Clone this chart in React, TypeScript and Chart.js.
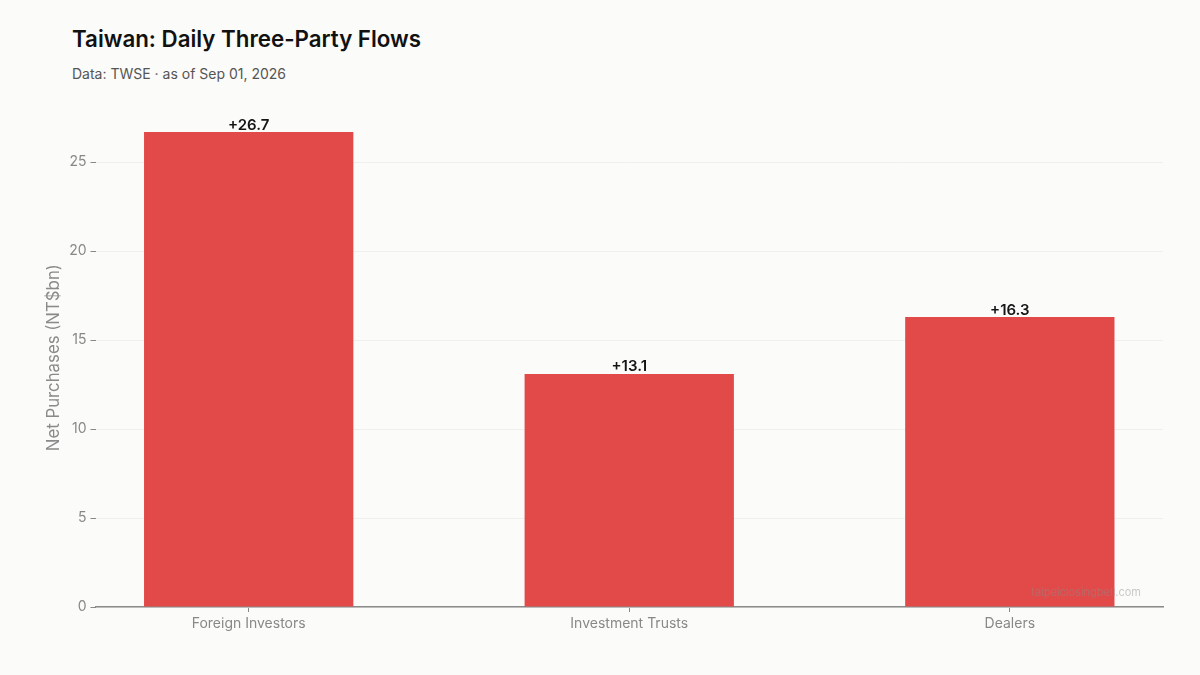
import React, { useEffect, useRef } from "react";
import { Chart, registerables } from "chart.js";

Chart.register(...registerables);

const categories: string[] = ["Foreign Investors", "Investment Trusts", "Dealers"];
const netPurchases: number[] = [26.7, 13.1, 16.3];
const yTicks: number[] = [0, 5, 10, 15, 20, 25];

const TITLE = "Taiwan: Daily Three-Party Flows";
const SUBTITLE = "Data: TWSE · as of Sep 01, 2026";
const Y_TITLE = "Net Purchases (NT$bn)";
const WATERMARK = "taipeiclosingbell.com";

const FONT = "Inter, 'Noto Sans', sans-serif";
const BAR_COLOR = "#e24a4a";
const BG = "#fbfbf9";

const valueLabels = {
  id: "valueLabels",
  afterDatasetsDraw(chart: any) {
    const ctx = chart.ctx;
    const meta = chart.getDatasetMeta(0);
    ctx.save();
    ctx.font = `600 15px ${FONT}`;
    ctx.fillStyle = "#151515";
    ctx.textAlign = "center";
    ctx.textBaseline = "bottom";
    meta.data.forEach((el: any, i: number) => {
      const v = netPurchases[i];
      const txt = (v >= 0 ? "+" : "") + v.toFixed(1);
      ctx.fillText(txt, el.x, el.y + 0.5);
    });
    ctx.restore();
  },
};

const watermark = {
  id: "watermark",
  afterDraw(chart: any) {
    const ctx = chart.ctx;
    const a = chart.chartArea;
    ctx.save();
    ctx.font = `11px ${FONT}`;
    ctx.fillStyle = "rgba(140,140,140,0.45)";
    ctx.textAlign = "right";
    ctx.textBaseline = "alphabetic";
    ctx.fillText(WATERMARK, a.right - 22, a.bottom - 11);
    ctx.restore();
  },
};

export default function App() {
  const ref = useRef<HTMLCanvasElement | null>(null);

  useEffect(() => {
    document.body.style.margin = "0";
    document.body.style.background = BG;
    if (!ref.current) return;
    const chart = new Chart(ref.current, {
      type: "bar",
      data: {
        datasets: [
          {
            data: netPurchases.map((v, i) => ({ x: i, y: v })),
            backgroundColor: BAR_COLOR,
            borderWidth: 0,
            categoryPercentage: 1,
            barPercentage: 0.55,
          },
        ],
      },
      options: {
        animation: false,
        responsive: true,
        maintainAspectRatio: false,
        layout: { padding: { top: 108.3, right: 37, bottom: 0, left: 0 } },
        plugins: {
          legend: { display: false },
          tooltip: { enabled: false },
        },
        scales: {
          x: {
            type: "linear",
            offset: false,
            min: -0.4025,
            max: 2.4025,
            afterBuildTicks: (scale: any) => {
              scale.ticks = categories.map((_, i) => ({ value: i }));
            },
            afterFit: (scale: any) => {
              scale.height = 68;
            },
            ticks: {
              autoSkip: false,
              maxRotation: 0,
              padding: 3,
              color: "#888888",
              font: { family: FONT, size: 14 },
              callback: (v: any) => categories[Number(v)] ?? "",
            },
            grid: {
              offset: false,
              drawOnChartArea: false,
              drawTicks: true,
              tickLength: 5,
              tickColor: "#888888",
              tickWidth: 1,
            },
            border: { display: true, color: "#8a8a8a", width: 1.5 },
          },
          y: {
            type: "linear",
            min: 0,
            max: 28.035,
            afterBuildTicks: (scale: any) => {
              scale.ticks = yTicks.map((v) => ({ value: v }));
            },
            afterFit: (scale: any) => {
              scale.width = 95.5;
            },
            ticks: {
              padding: 4,
              color: "#888888",
              font: { family: FONT, size: 14 },
              callback: (v: any) => String(v),
            },
            grid: {
              color: "#efefed",
              lineWidth: 1,
              drawTicks: true,
              tickLength: 5,
              tickColor: "#888888",
            },
            border: { display: false },
            title: {
              display: true,
              text: Y_TITLE,
              color: "#8a8a8a",
              font: { family: FONT, size: 16.8 },
              padding: { top: 44, bottom: 0 },
            },
          },
        },
      },
      plugins: [valueLabels, watermark],
    } as any);
    return () => chart.destroy();
  }, []);

  return (
    <div
      style={{
        position: "absolute",
        left: 0,
        top: 0,
        width: 1200,
        height: 675,
        background: BG,
        overflow: "hidden",
      }}
    >
      <div
        style={{
          position: "absolute",
          left: 72,
          top: 24,
          fontFamily: FONT,
          fontWeight: 600,
          fontSize: 22.3,
          color: "#111111",
          whiteSpace: "nowrap",
          lineHeight: "30px",
        }}
      >
        {TITLE}
      </div>
      <div
        style={{
          position: "absolute",
          left: 72,
          top: 64,
          fontFamily: FONT,
          fontSize: 14,
          color: "#555555",
          whiteSpace: "nowrap",
          lineHeight: "20px",
        }}
      >
        {SUBTITLE}
      </div>
      <div style={{ position: "absolute", left: 0, top: 0, width: 1200, height: 675 }}>
        <canvas ref={ref} />
      </div>
    </div>
  );
}
